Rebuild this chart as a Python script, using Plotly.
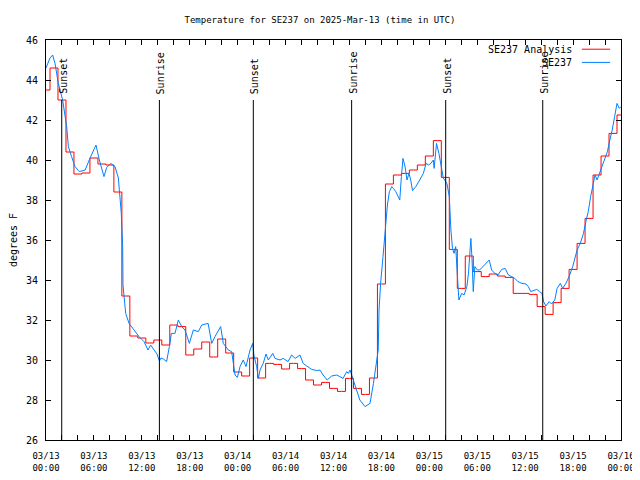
import pandas as pd
import plotly.graph_objects as go

START = pd.Timestamp("2025-03-13 00:00")

# Analysis (hourly) values, hour 0 .. 72
analysis_hours = list(range(0, 73))
analysis_temps = [
    43.5, 44.6, 43.0, 40.4, 39.3, 39.35, 40.1, 39.8, 39.75, 38.4,
    33.2, 31.2, 31.1, 30.85, 31.0, 30.75, 31.75, 31.67, 30.25, 30.55,
    30.9, 30.15, 31.05, 30.35, 29.4, 29.2, 30.1, 29.1, 29.83, 29.78,
    29.55, 29.83, 29.57, 29.0, 28.75, 28.88, 28.58, 28.43, 29.08, 28.58,
    28.28, 29.1, 33.8, 38.8, 39.25, 39.33, 39.5, 39.75, 40.2, 40.97,
    39.13, 35.53, 33.58, 35.2, 34.42, 34.17, 34.3, 34.2, 34.13, 33.33,
    33.33, 33.28, 32.67, 32.28, 32.87, 33.58, 34.53, 35.83, 37.08, 39.25,
    40.2, 41.33, 42.25,
]

# Observations (hours after start, temperature)
obs_hours = [
    0.0, 0.16, 0.5, 0.83, 1.13, 1.54, 2.08, 2.59, 2.8, 3.2, 3.63, 4.17, 4.9, 5.5,
    6.26, 6.68, 7.26, 7.6, 8.1, 8.64, 9.06, 9.43, 9.6, 9.64, 9.77, 9.98, 10.4, 11.0,
    11.65, 12.27, 12.77, 13.1, 13.4, 13.9, 14.2, 14.4, 14.7, 15.1, 15.45, 15.7, 16.15,
    16.57, 17.0, 17.4, 17.95, 18.25, 18.45, 19.07, 19.5, 20.3, 20.75, 21.16, 21.87,
    22.2, 22.83, 23.25, 23.67, 23.96, 24.3, 24.7, 25.04, 25.55, 25.88, 26.05, 26.38,
    26.59, 26.8, 27.2, 27.55, 27.84, 28.4, 28.68, 29.3, 29.7, 30.3, 30.76, 31.2, 31.8,
    32.2, 32.65, 33.27, 33.9, 34.3, 34.7, 35.2, 35.77, 36.4, 36.8, 37.2, 37.65, 37.85,
    38.07, 38.28, 38.7, 38.9, 39.3, 39.94, 40.57, 41.0, 41.3, 41.6, 41.7, 41.9, 42.2,
    42.4, 42.6, 42.75, 43.0, 43.3, 43.5, 43.8, 44.1, 44.3, 44.5, 44.7, 44.96, 45.2,
    45.45, 45.67, 45.9, 46.3, 46.8, 47.25, 47.6, 47.9, 48.2, 48.5, 48.6, 48.9, 49.2,
    49.4, 49.75, 50.2, 50.5, 50.7, 50.9, 51.1, 51.3, 51.5, 51.7, 52.05, 52.35, 52.7,
    52.9, 53.1, 53.2, 53.35, 53.5, 53.7, 54.0, 54.3, 54.7, 55.1, 55.5, 55.8, 56.2,
    56.6, 57.06, 57.5, 57.9, 58.3, 58.7, 59.1, 59.6, 60.1, 60.4, 60.7, 61.0, 61.45,
    61.8, 62.1, 62.3, 62.6, 63.0, 63.3, 63.7, 64.0, 64.4, 64.7, 65.1, 65.5, 65.95,
    66.2, 66.5, 66.9, 67.3, 67.6, 67.9, 68.2, 68.5, 68.75, 69.0, 69.3, 69.6, 70.0,
    70.3, 70.6, 70.9, 71.2, 71.5, 71.8, 72.0,
]
obs_temps = [
    44.6, 44.75, 45.1, 45.25, 44.83, 43.83, 43.0, 41.67, 40.67, 40.17, 39.67, 39.42, 39.5, 40.08,
    40.75, 40.0, 39.17, 39.63, 39.83, 39.67, 39.1, 37.33, 35.67, 33.75, 33.17, 32.33, 31.83, 31.5,
    31.17, 30.92, 30.5, 30.75, 30.6, 30.3, 29.95, 30.1, 30.05, 29.92, 30.67, 31.33, 31.33,
    32.0, 31.67, 31.5, 30.83, 31.17, 31.5, 31.42, 31.75, 31.83, 30.83, 31.17, 31.67,
    30.83, 30.5, 30.42, 29.25, 29.13, 29.67, 30.0, 29.67, 30.5, 30.83, 30.2, 29.67,
    29.08, 29.5, 29.83, 30.3, 30.0, 30.33, 30.08, 30.0, 30.08, 29.92, 30.25, 30.08, 30.25,
    29.83, 29.7, 29.53, 29.47, 29.5, 29.25, 29.0, 29.2, 29.25, 29.17, 29.08, 29.42, 29.33,
    29.5, 29.25, 28.75, 28.5, 28.0, 27.67, 27.83, 28.83, 29.67, 30.5, 32.5, 33.83, 35.17,
    36.17, 37.0, 37.75, 38.42, 38.67, 38.58, 38.42, 38.17, 38.0, 39.17, 40.08, 39.67, 39.0,
    39.33, 39.0, 38.47, 38.67, 39.0, 39.33, 39.83, 39.75, 39.83, 40.0, 39.58, 40.83, 40.33,
    39.8, 39.1, 38.83, 38.17, 36.5, 35.58, 35.33, 35.67, 34.33, 33.0, 33.33, 33.25, 33.67,
    34.33, 35.5, 36.08, 35.0, 33.42, 34.67, 34.5, 34.5, 34.67, 34.87, 35.0, 34.5, 34.33,
    34.25, 34.53, 34.58, 34.25, 34.17, 34.08, 33.92, 33.83, 33.8, 33.67, 33.42, 33.47, 33.53,
    33.42, 33.33, 32.92, 32.7, 32.92, 32.8, 33.0, 33.58, 33.83, 33.58, 33.83, 34.17, 34.67,
    35.0, 35.5, 35.83, 36.33, 36.92, 37.42, 38.17, 38.83, 39.25, 39.0, 39.33, 39.75, 40.17,
    40.42, 41.0, 41.5, 42.17, 42.83, 42.58, 42.67,
]

# Sun events (hours after start)
sun_hours = [1.97, 14.2, 25.96, 38.27, 50.05, 62.2]
sun_labels = ["Sunset", "Sunrise", "Sunset", "Sunrise", "Sunset", "Sunrise"]
sun_line_top = 43.0

legend_names = ["SE237 Analysis", "SE237"]
colors = ["#ff0000", "#0080ff"]


def to_time(hours):
    return [START + pd.Timedelta(hours=h) for h in hours]


MONO = "DejaVu Sans Mono"

fig = go.Figure()
fig.add_trace(go.Scatter(
    x=to_time(analysis_hours), y=analysis_temps, mode="lines",
    line=dict(color=colors[0], width=1, shape="hvh"), name=legend_names[0],
))
fig.add_trace(go.Scatter(
    x=to_time(obs_hours), y=obs_temps, mode="lines",
    line=dict(color=colors[1], width=1), name=legend_names[1],
))

for h, lab in zip(sun_hours, sun_labels):
    t = START + pd.Timedelta(hours=h)
    fig.add_shape(type="line", xref="x", yref="y", x0=t, x1=t, y0=26, y1=sun_line_top,
                  line=dict(color="black", width=1))
    fig.add_annotation(x=t, xref="x", y=0.86, yref="paper", text=lab, textangle=-90,
                       showarrow=False, xanchor="center", yanchor="bottom", xshift=1,
                       font=dict(family=MONO, size=10, color="black"))

# legend drawn gnuplot-style (text right, sample line to its right)
leg_y = [0.977, 0.944]
for name, col, yy in zip(legend_names, colors, leg_y):
    fig.add_annotation(x=0.918, xref="paper", y=yy, yref="paper", text=name,
                       showarrow=False, xanchor="right", yanchor="middle",
                       font=dict(family=MONO, size=10, color="black"))
    fig.add_shape(type="line", xref="paper", yref="paper", x0=0.932, x1=0.981,
                  y0=yy, y1=yy, line=dict(color=col, width=1))

# the page body adds an 8px offset; margins compensate for it
fig.update_layout(
    width=640, height=480,
    margin=dict(l=38, r=27, t=32, b=48, autoexpand=False),
    paper_bgcolor="white", plot_bgcolor="white",
    showlegend=False,
    title=dict(text="Temperature for SE237 on 2025-Mar-13 (time in UTC)",
               x=0.4875, xanchor="center", y=0.975, yanchor="middle",
               font=dict(family=MONO, size=9, color="black")),
    font=dict(family=MONO, size=10, color="black"),
)
fig.update_xaxes(
    type="date", automargin=False,
    range=[START, START + pd.Timedelta(hours=72)],
    tick0=START, dtick=6 * 3600 * 1000,
    tickformat="%m/%d<br>%H:%M",
    ticks="inside", ticklen=5, tickcolor="black",
    ticklabelstandoff=7,
    minor=dict(dtick=2 * 3600 * 1000, ticks="inside", ticklen=5, tickcolor="black"),
    showline=True, linecolor="black", linewidth=1, mirror="ticks",
    showgrid=False, zeroline=False,
    tickfont=dict(family=MONO, size=9, color="black"),
)
fig.update_yaxes(
    automargin=False,
    range=[26, 46], dtick=2,
    ticks="inside", ticklen=5, tickcolor="black",
    ticklabelstandoff=5,
    showline=True, linecolor="black", linewidth=1, mirror="ticks",
    showgrid=False, zeroline=False,
    title=dict(text="degrees F", font=dict(family=MONO, size=10, color="black"), standoff=9),
    tickfont=dict(family=MONO, size=10, color="black"),
)

fig.write_html("out.html")
